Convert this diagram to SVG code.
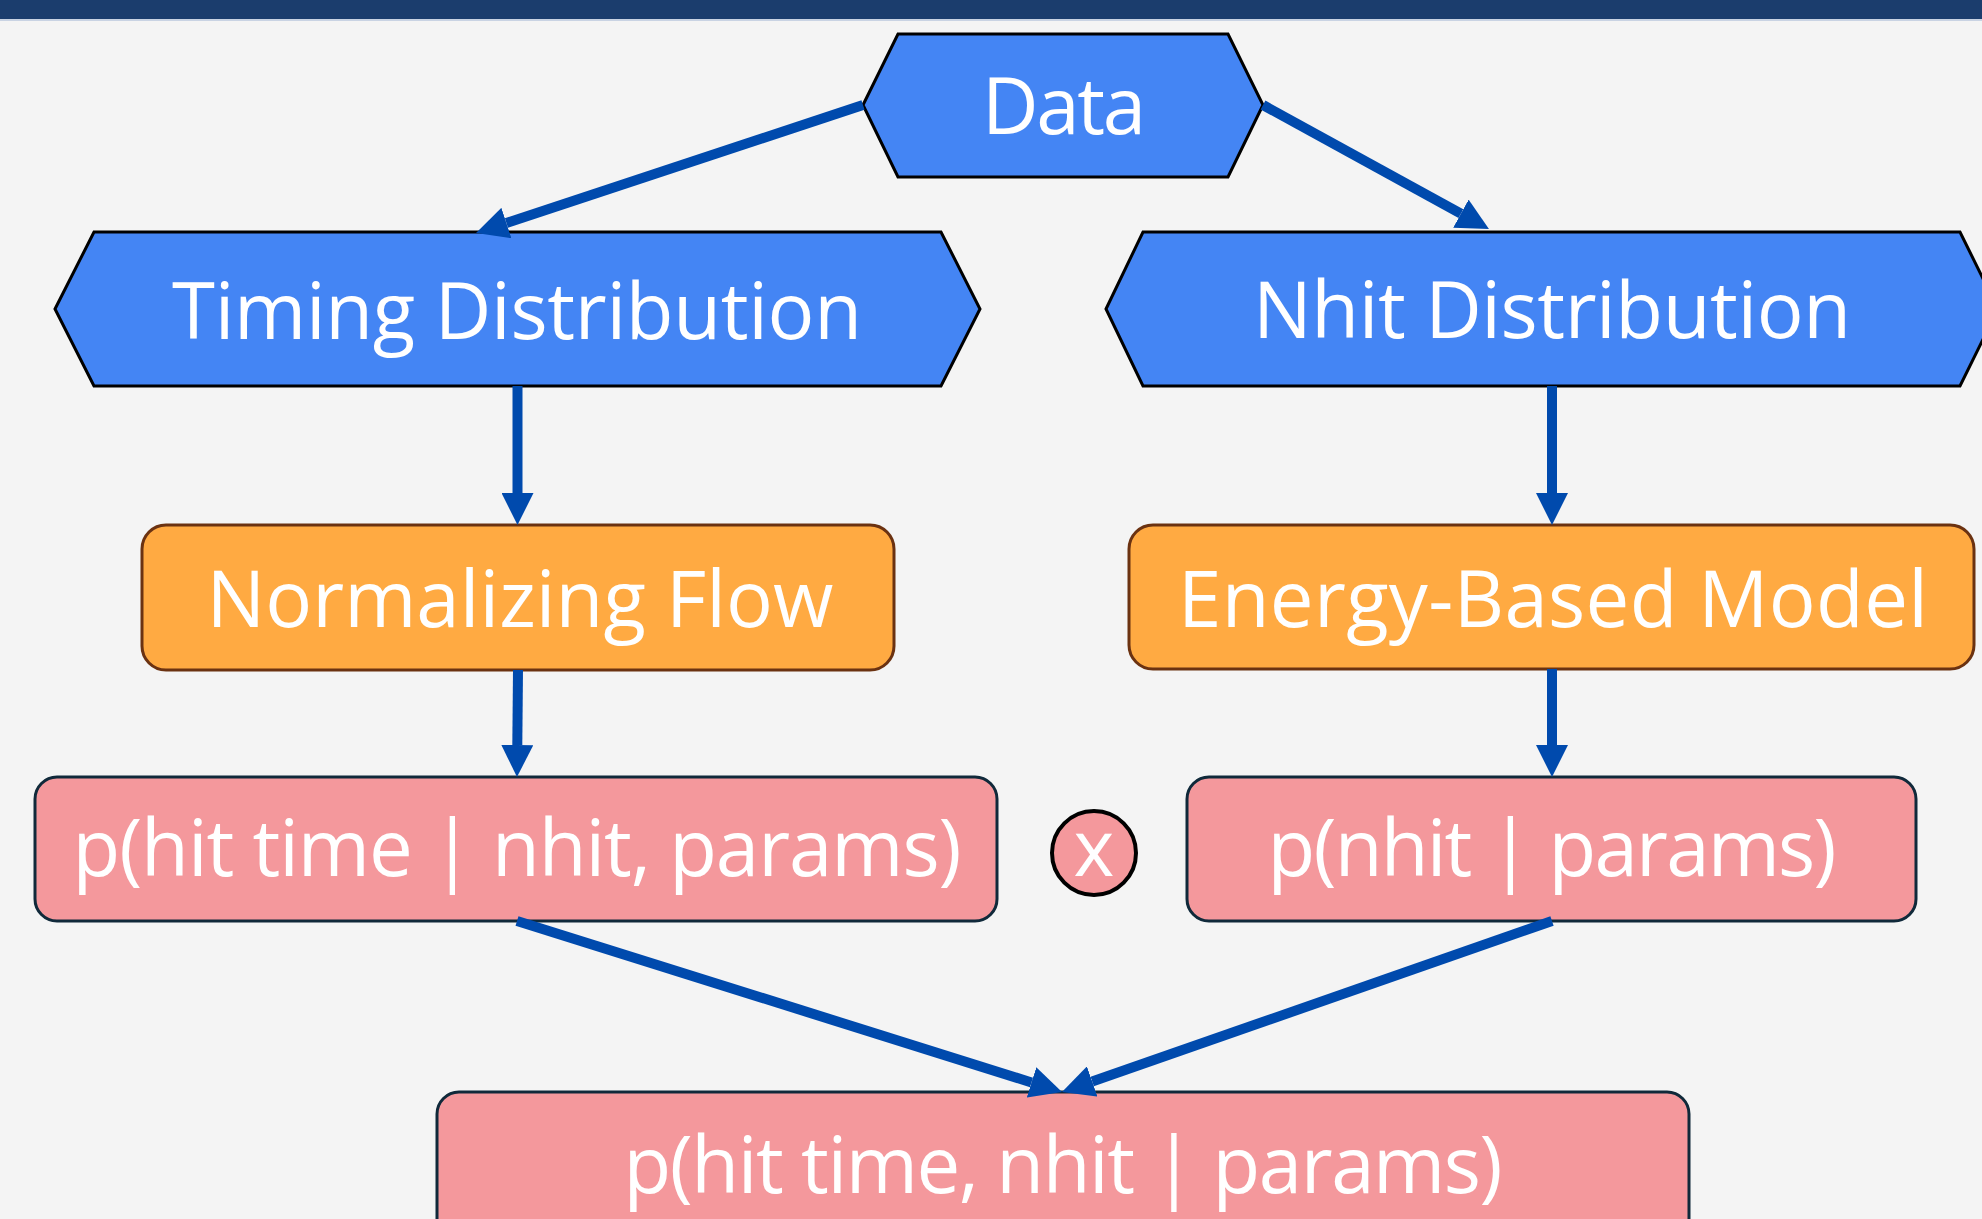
<svg xmlns="http://www.w3.org/2000/svg" width="1982" height="1219" viewBox="0 0 1982 1219">
  <style>
    .lbl { font-family: "Open Sans", "Liberation Sans", sans-serif; font-size: 78px; fill: #ffffff; text-anchor: middle; }
    .hex { fill: #4485f4; stroke: #000000; stroke-width: 3; stroke-linejoin: miter; }
    .model { fill: #ffaa42; stroke: #6b3211; stroke-width: 3; }
    .prob { fill: #f4989c; stroke: #10293a; stroke-width: 3; }
    .edge { stroke: #004aad; stroke-width: 10; fill: none; marker-end: url(#arrow); }
  </style>
  <defs>
    <!-- arrowhead starts where the shaft ends and reaches 32px further -->
    <marker id="arrow" markerUnits="userSpaceOnUse" markerWidth="33" markerHeight="32" refX="0" refY="16" orient="auto">
      <path d="M0,0 L32,16 L0,32 Z" fill="#004aad"/>
    </marker>
  </defs>

  <!-- page background and header band -->
  <rect x="0" y="0" width="1982" height="1219" fill="#f4f4f4"/>
  <rect x="0" y="0" width="1982" height="19" fill="#1b3d6d"/>
  <rect x="0" y="19" width="1982" height="2" fill="#c9d3e3"/>

  <g id="data">
    <polygon class="hex" points="863,105 898,34 1228,34 1263,105 1228,177 898,177"/>
    <text class="lbl" x="1064" y="134" textLength="164" lengthAdjust="spacing">Data</text>
  </g>

  <g id="timing-distribution">
    <polygon class="hex" points="55,309 94,232 941,232 980,309 941,386 94,386"/>
    <text class="lbl" x="517" y="339" textLength="690" lengthAdjust="spacing">Timing Distribution</text>
  </g>

  <g id="nhit-distribution">
    <polygon class="hex" points="1106,309 1143,232 1960,232 1998,309 1960,386 1143,386"/>
    <text class="lbl" x="1552" y="338" textLength="598" lengthAdjust="spacing">Nhit Distribution</text>
  </g>

  <g id="normalizing-flow">
    <rect class="model" x="142" y="525" width="752" height="145" rx="24"/>
    <text class="lbl" x="520" y="627" textLength="627" lengthAdjust="spacing">Normalizing Flow</text>
  </g>

  <g id="energy-based-model">
    <rect class="model" x="1129" y="525" width="845" height="144" rx="24"/>
    <text class="lbl" x="1553" y="627" textLength="750" lengthAdjust="spacing">Energy-Based Model</text>
  </g>

  <g id="p-time-given-nhit">
    <rect class="prob" x="35" y="777" width="962" height="144" rx="22"/>
    <text class="lbl" x="517" y="876" textLength="889" lengthAdjust="spacing">p(hit time | nhit, params)</text>
  </g>

  <g id="product">
    <circle cx="1094" cy="853" r="42" fill="#f4989c" stroke="#000000" stroke-width="4"/>
    <text class="lbl" x="1094" y="876" font-size="60">x</text>
  </g>

  <g id="p-nhit">
    <rect class="prob" x="1187" y="777" width="729" height="144" rx="22"/>
    <text class="lbl" x="1552" y="876" textLength="569" lengthAdjust="spacing">p(nhit | params)</text>
  </g>

  <g id="p-joint">
    <rect class="prob" x="437" y="1092" width="1252" height="160" rx="22"/>
    <text class="lbl" x="1063" y="1193" textLength="879" lengthAdjust="spacing">p(hit time, nhit | params)</text>
  </g>

  <!-- connectors, drawn over the node outlines -->
  <g id="connectors">
    <line class="edge" x1="863" y1="105" x2="506.4" y2="223"/>
    <line class="edge" x1="1263" y1="105" x2="1460.9" y2="213.6"/>
    <line class="edge" x1="517.5" y1="386" x2="517.5" y2="493"/>
    <line class="edge" x1="518" y1="670" x2="517.3" y2="745"/>
    <line class="edge" x1="1552" y1="386" x2="1552" y2="493"/>
    <line class="edge" x1="1552" y1="669" x2="1552" y2="745"/>
    <line class="edge" x1="517" y1="921" x2="1031.5" y2="1082.4"/>
    <line class="edge" x1="1552" y1="921" x2="1092.2" y2="1081.5"/>
  </g>
</svg>
